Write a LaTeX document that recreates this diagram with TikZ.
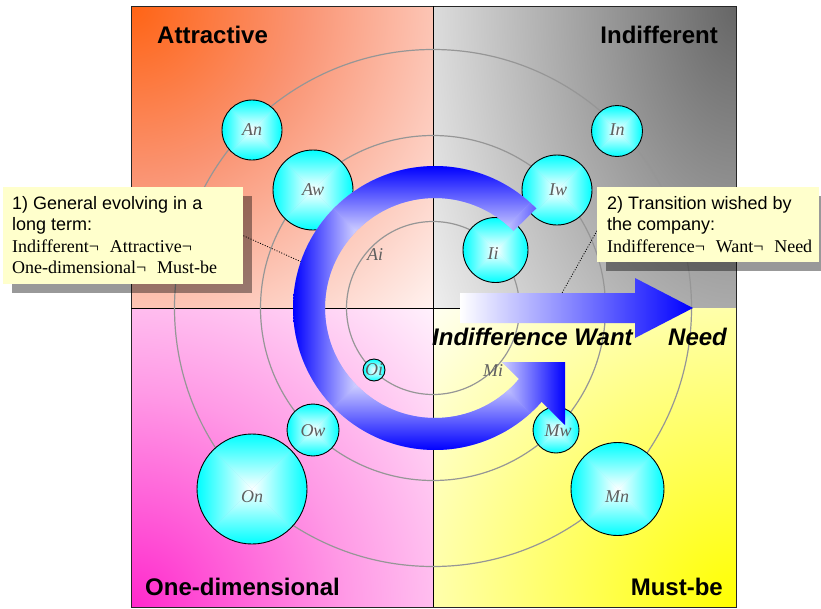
\documentclass[tikz,border=0pt]{standalone}
\usepackage{fontspec}
\setmainfont{Liberation Serif}
\newfontfamily\arialfont{Liberation Sans}
\usetikzlibrary{calc,shadows}

\pgfdeclarelayer{base}
\pgfdeclarelayer{arrows}
\pgfsetlayers{base,arrows,main}

\definecolor{notecol}{RGB}{255,255,204}
\definecolor{ringcol}{RGB}{150,150,150}
\definecolor{labelcol}{RGB}{95,95,95}
\definecolor{bandmid}{RGB}{225,225,255}
\definecolor{bandbase}{RGB}{170,170,255}

% quadrant gradients, spreading from each outer corner (25bp = full radius)
\pgfdeclareradialshading{attrgrad}{\pgfpointorigin}{rgb(0bp)=(1,0.39,0.08); rgb(10bp)=(0.98,0.58,0.45); rgb(18bp)=(0.99,0.78,0.72); rgb(25bp)=(1,0.95,0.94); rgb(50bp)=(1,0.95,0.94)}
\pgfdeclareradialshading{indgrad}{\pgfpointorigin}{rgb(0bp)=(0.40,0.40,0.40); rgb(25bp)=(0.98,0.98,0.98); rgb(50bp)=(0.98,0.98,0.98)}
\pgfdeclareradialshading{onegrad}{\pgfpointorigin}{rgb(0bp)=(1,0.16,0.8); rgb(12.5bp)=(1,0.6,0.9); rgb(25bp)=(1,0.95,0.99); rgb(50bp)=(1,0.95,0.99)}
\pgfdeclareradialshading{mustgrad}{\pgfpointorigin}{rgb(0bp)=(1,1,0); rgb(25bp)=(1,1,0.95); rgb(50bp)=(1,1,0.95)}

% rectangular "from centre" gradients: one axis shading per side
\tikzset{
  bubUp/.style={top color=cyan, bottom color=white},
  bubDown/.style={bottom color=cyan, top color=white},
  bubLeft/.style={left color=cyan, right color=white},
  bubRight/.style={right color=cyan, left color=white},
  bandUp/.style={top color=blue, bottom color=white, middle color=bandmid},
  bandDown/.style={bottom color=blue, top color=white, middle color=bandmid},
  bandLeft/.style={left color=blue, right color=white, middle color=bandmid},
  bandRight/.style={right color=blue, left color=white, middle color=bandmid}
}

% four triangles around (#2,#3) with half sizes #4 x #5, styles #1Up ... #1Right
\newcommand\rectgrad[5]{%
  \shade[#1Up]    (#2,#3) -- (#2-#4,#3-#5) -- (#2+#4,#3-#5) -- cycle;
  \shade[#1Down]  (#2,#3) -- (#2-#4,#3+#5) -- (#2+#4,#3+#5) -- cycle;
  \shade[#1Left]  (#2,#3) -- (#2-#4,#3-#5) -- (#2-#4,#3+#5) -- cycle;
  \shade[#1Right] (#2,#3) -- (#2+#4,#3-#5) -- (#2+#4,#3+#5) -- cycle;
}

% a cyan bubble: name, x, y, radius
\newcommand\bubble[4]{%
  \begin{scope}
    \clip (#2,#3) circle[radius=#4];
    \fill[cyan!45] (#2,#3) circle[radius=#4];
    \rectgrad{bub}{#2}{#3}{#4}{#4}
  \end{scope}
  \node[bubbleedge, minimum size={2*#4}] (#1) at (#2,#3) {};
}

% one quadrant: corner #1,#2; opposite corner #3,#4; shading #5; radii #6, #7
\newcommand\quadrant[7]{%
  \begin{scope}
    \clip (#1,#2) rectangle (#3,#4);
    \shade[shading=#5] (#1,#2) ellipse[x radius=#6, y radius=#7];
  \end{scope}
}

\newcommand\arrowmark{¬\hspace{0.6em}}

\begin{document}
\begin{tikzpicture}[x=1pt, y=-1pt,
  bubbleedge/.style={circle, draw=black, line width=0.9pt, inner sep=0pt},
  bubtext/.style={font=\fontsize{18}{18}\selectfont\itshape, text=labelcol, inner sep=0pt},
  ring/.style={draw=ringcol, line width=1.2pt},
  axisline/.style={draw=black, line width=1pt},
  quadlabel/.style={font=\arialfont\bfseries\fontsize{24}{24}\selectfont, inner sep=0pt},
  flowtext/.style={font=\arialfont\bfseries\itshape\fontsize{24}{24}\selectfont, inner sep=0pt, anchor=base west},
  note/.style={fill=notecol, inner sep=0pt, anchor=north west,
    drop shadow={shadow xshift=9pt, shadow yshift=-9pt, fill=black, opacity=0.4}},
  notesans/.style={font=\arialfont\fontsize{18}{18}\selectfont, inner sep=0pt, anchor=base west},
  noteserif/.style={font=\fontsize{18}{18}\selectfont, inner sep=0pt, anchor=base west},
  pointer/.style={draw=black, line width=0.8pt, dash pattern=on 1pt off 1.6pt}]

\useasboundingbox (0,0) rectangle (821,608);

% ---------- callout notes (top layer) ----------
\node[note, minimum width=240pt, minimum height=97pt] (box1) at (3,187) {};
\node[notesans] (n1a) at (12,209.5) {1) General evolving in a};
\node[notesans] (n1b) at (12,230) {long term:};
\node[noteserif] (n1c) at (12,252.5) {Indifferent\arrowmark Attractive¬};
\node[noteserif] (n1d) at (12,273) {One-dimensional\arrowmark Must-be};

\node[note, minimum width=222pt, minimum height=75pt] (box2) at (597,187) {};
\node[notesans] (n2a) at (607,209.5) {2) Transition wished by};
\node[notesans] (n2b) at (607,230) {the company:};
\node[noteserif] (n2c) at (607,252) {Indifference\arrowmark Want\arrowmark Need};

% ---------- quadrants, axes, rings, bubbles ----------
\begin{pgfonlayer}{base}
  \quadrant{131}{6}{433}{308}{attrgrad}{427}{427}
  \quadrant{736}{6}{433}{308}{indgrad}{380}{650}
  \quadrant{131}{607}{433}{308}{onegrad}{427}{427}
  \quadrant{736}{607}{433}{308}{mustgrad}{427}{427}

  \draw[draw=black!85, line width=1pt] (131,6) rectangle (736,607);
  \draw[axisline] (433,6) -- (433,607);
  \draw[axisline] (131,308) -- (460,308);

  \coordinate (mid) at (433,308);
  \draw[ring] (mid) circle[radius=86.5];
  \draw[ring] (mid) circle[radius=172.5];
  \draw[ring] (mid) circle[radius=258.5];

  \bubble{An}{252}{130}{30}
  \bubble{Aw}{313}{190}{40}
  \bubble{In}{617}{131}{25.5}
  \bubble{Iw}{557}{190}{35}
  \bubble{Ii}{495.5}{250}{32.5}
  \bubble{Oi}{374}{370}{11}
  \bubble{Ow}{313}{430}{26}
  \bubble{On}{252}{489}{55}
  \bubble{Mw}{556}{430}{23}
  \bubble{Mn}{617.5}{489}{46.5}

  % note pointers
  \coordinate (p1) at (306,264);
  \coordinate (p2) at (562,293);
  \draw[pointer] (box1.east) -- (p1);
  \draw[pointer] ($(box2.west)+(0,6)$) -- (p2);
\end{pgfonlayer}

% ---------- arrows ----------
\begin{pgfonlayer}{arrows}
  \coordinate (cen) at (435,308);
  \coordinate (ha) at (502,362);
  \coordinate (hb) at (565,362);
  \coordinate (hc) at (565,425);
  \begin{scope}
    \clip ($(cen)+(-44.5:142)$) arc[start angle=-44.5, end angle=-318.7, radius=142]
      -- (hc) -- (hb) -- (ha)
      -- ($(cen)+(-319.8:110)$) arc[start angle=-319.8, end angle=-44.5, radius=110]
      -- cycle;
    \fill[bandbase] (293,166) rectangle (565,450);
    \rectgrad{band}{429}{308}{136}{142}
  \end{scope}
  \shade[left color=white, right color=blue]
    (460,293) -- (635,293) -- (635,278) -- (693,308) -- (635,338) -- (635,323) -- (460,323) -- cycle;
\end{pgfonlayer}

% ---------- labels ----------
\node[quadlabel, anchor=base west] (qA) at (157,43) {Attractive};
\node[quadlabel, anchor=base east] (qI) at (718,43) {Indifferent};
\node[quadlabel, anchor=base west] (qO) at (145,595) {One-dimensional};
\node[quadlabel, anchor=base east] (qM) at (723,595) {Must-be};

\node[flowtext] (fIW) at (432,345) {Indifference Want};
\node[flowtext] (fN) at (668,345) {Need};

\node[bubtext] (tAn) at (252,130) {An};
\node[bubtext] (tAw) at (313,190) {Aw};
\node[bubtext] (tAi) at (375,255) {Ai};
\node[bubtext] (tIn) at (617,130) {In};
\node[bubtext] (tIw) at (558,190) {Iw};
\node[bubtext] (tIi) at (493,254) {Ii};
\node[bubtext] (tOi) at (374,370) {Oi};
\node[bubtext] (tOw) at (313,431) {Ow};
\node[bubtext] (tOn) at (252,497) {On};
\node[bubtext] (tMi) at (493,371) {Mi};
\node[bubtext] (tMw) at (558,431) {Mw};
\node[bubtext] (tMn) at (617,497) {Mn};

\end{tikzpicture}
\end{document}
